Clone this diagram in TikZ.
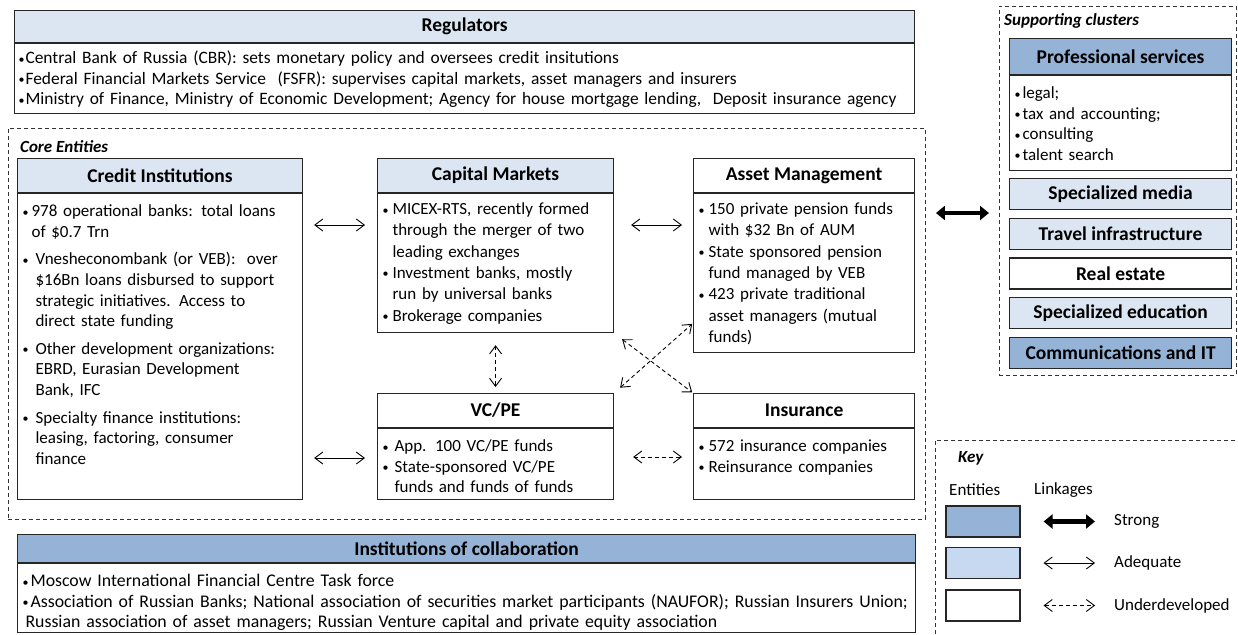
\documentclass[tikz,border=0pt]{standalone}
\usepackage{fontspec}
\setmainfont{Carlito}
\usetikzlibrary{arrows.meta,positioning}

\definecolor{deepblue}{HTML}{95B3D7}
\definecolor{paleblue}{HTML}{DCE6F2}
\definecolor{keyblue}{HTML}{C6D9F1}

\newcommand\txtfont{\fontsize{17}{20.6}\selectfont}
\newcommand\loosefont{\fontsize{17}{21.3}\selectfont}
\newcommand\regfont{\fontsize{17.4}{20.6}\selectfont}
\newcommand\widefont{\fontsize{17.8}{20.6}\selectfont}
\newcommand\hdfont{\fontsize{19.5}{23}\selectfont\bfseries}
% bullet with hanging indent (first item: \bul, next ones: \itm)
\newcommand\bdot{\raisebox{0.6pt}{\fontsize{12}{12}\selectfont\textbullet}}
\newcommand\bul[1][13pt]{\hangindent=#1\hangafter=1\noindent\makebox[#1][l]{\bdot}}
\newcommand\itm[1][13pt]{\par\bul[#1]}
\newcommand\gap{\par\vspace{7pt}}

\tikzset{
  head/.style={draw=black!85, line width=1.1pt, fill=paleblue, font=\hdfont,
    minimum height=34pt, inner sep=0pt, anchor=north west},
  body/.style={draw=black!85, line width=1.1pt, fill=white, font=\txtfont,
    align=left, inner xsep=5pt, inner ysep=0pt, text height=21pt},
  cluster/.style={draw=black!80, line width=0.9pt, dash pattern=on 4pt off 3pt,
    anchor=north west, inner sep=0pt},
  tag/.style={font=\txtfont\bfseries\itshape, anchor=west, inner sep=0pt},
  plain/.style={font=\txtfont, anchor=west, inner sep=0pt},
  adeq/.style={line width=0.9pt, {Straight Barb[length=8pt,width=12pt]}-{Straight Barb[length=8pt,width=12pt]}},
  weak/.style={adeq, dash pattern=on 4pt off 3pt},
  strong/.style={line width=4.5pt, {Triangle[length=9pt,width=14pt]}-{Triangle[length=9pt,width=14pt]}},
  swatch/.style={draw=black!85, line width=1.1pt, minimum width=74pt, minimum height=31pt, inner sep=0pt},
}

\begin{document}
\begin{tikzpicture}[x=1pt,y=-1pt]
\useasboundingbox (0,0) rectangle (1238,634);

% regulators
\node[head, minimum width=900pt, minimum height=32pt] (regh) at (14,10) {Regulators};
\node[body, font=\regfont, inner xsep=4pt, below=0pt of regh, text width=892pt, text height=20pt, text depth=50pt] (regb) {%
  \bul[7pt]Central Bank of Russia (CBR): sets monetary policy and oversees credit insitutions
  \itm[7pt]Federal Financial Markets Service~ (FSFR): supervises capital markets, asset managers and insurers
  \itm[7pt]Ministry of Finance, Ministry of Economic Development; Agency for house mortgage lending,~ Deposit insurance agency\par};

% core entities
\node[cluster, minimum width=917pt, minimum height=391pt] (core) at (8,128) {};
\node[tag] (coretag) at (20,147) {Core Entities};

\node[head, minimum width=285pt] (crh) at (17,158) {Credit Institutions};
\node[body, below=0pt of crh, text width=275pt, text height=23pt, text depth=283pt] (crb) {%
  \bul[9pt]978 operational banks: total loans\newline of \$0.7 Trn
  \gap\bul Vnesheconombank (or VEB):~ over\newline \$16Bn loans disbursed to support\newline strategic initiatives. Access to\newline direct state funding
  \gap\bul Other development organizations:\newline EBRD, Eurasian Development\newline Bank, IFC
  \gap\bul Specialty finance institutions:\newline leasing, factoring, consumer\newline finance\par};

\node[head, minimum width=236pt] (cmh) at (377,158) {Capital Markets};
\node[body, font=\loosefont, below=0pt of cmh, text width=226pt, text depth=118pt] (cmb) {%
  \bul[10pt]MICEX-RTS, recently formed\newline through the merger of two\newline leading exchanges
  \itm[10pt]Investment banks, mostly\newline run by universal banks
  \itm[10pt]Brokerage companies\par};

\node[head, fill=white, minimum width=221pt] (amh) at (693,158) {Asset Management};
\node[body, font=\loosefont, below=0pt of amh, text width=211pt, text depth=138pt] (amb) {%
  \bul[10pt]150 private pension funds\newline with \$32 Bn of AUM
  \itm[10pt]State sponsored pension\newline fund managed by VEB
  \itm[10pt]423 private traditional\newline asset managers (mutual\newline funds)\par};

\node[head, fill=white, minimum width=236pt] (vch) at (377,393) {VC/PE};
\node[body, below=0pt of vch, text width=226pt, text height=23pt, text depth=48pt] (vcb) {%
  \bul[12pt]App. 100 VC/PE funds
  \itm[12pt]State-sponsored VC/PE\newline funds and funds of funds\par};

\node[head, fill=white, minimum width=221pt] (inh) at (693,393) {Insurance};
\node[body, below=0pt of inh, text width=211pt, text height=23pt, text depth=48pt] (inb) {%
  \bul[10pt]572 insurance companies
  \itm[10pt]Reinsurance companies\par};

% links between core entities
\draw[adeq, shorten <=11pt, shorten >=12pt] (crb.east |- 0,225) -- (cmb.west |- 0,225);
\draw[adeq, shorten <=11pt, shorten >=12pt] (crb.east |- 0,458) -- (vcb.west |- 0,458);
\draw[adeq, shorten <=17pt, shorten >=11pt] (cmb.east |- 0,225) -- (amb.west |- 0,225);
\draw[weak, shorten <=12pt, shorten >=6pt] (cmb.south) -- (vch.north);
\draw[weak, shorten <=19pt, shorten >=11pt] (vcb.east |- 0,457) -- (inb.west |- 0,457);
\draw[weak, shorten <=10pt, shorten >=1pt] (cmb.south east) -- (inh.north west);
\draw[weak, shorten <=8pt, shorten >=1pt] (vch.north east) -- ([yshift=30pt]amb.south west);

% supporting clusters
\node[cluster, minimum width=237pt, minimum height=369pt] (supp) at (999,6) {};
\node[tag] (supptag) at (1004,21) {Supporting clusters};
\node[head, fill=deepblue, minimum width=222pt, minimum height=36pt] (psh) at (1009,38) {Professional services};
\node[body, below=0pt of psh, text width=212pt, text height=23pt, text depth=72pt] (psb) {%
  \bul[8pt]legal;
  \itm[8pt]tax and accounting;
  \itm[8pt]consulting
  \itm[8pt]talent search\par};
\node[head, minimum width=222pt, minimum height=31pt, below=7pt of psb] (smh) {Specialized media};
\node[head, minimum width=222pt, minimum height=31pt, below=7.5pt of smh] (tih) {Travel infrastructure};
\node[head, fill=white, minimum width=222pt, minimum height=31pt, below=7.5pt of tih] (reh) {Real estate};
\node[head, minimum width=222pt, minimum height=31pt, below=7.5pt of reh] (seh) {Specialized education};
\node[head, fill=deepblue, minimum width=222pt, minimum height=31pt, below=7.5pt of seh] (cih) {Communications and IT};

\draw[strong, shorten <=10pt, shorten >=10pt] (core.east |- 0,213) -- (supp.west |- 0,213);

% institutions of collaboration
\node[head, fill=deepblue, minimum width=898pt, minimum height=28pt] (ich) at (17,534) {Institutions of collaboration};
\node[body, font=\widefont, below=0pt of ich, text width=888pt, text height=23pt, text depth=46pt] (icb) {%
  \bul[8pt]Moscow International Financial Centre Task force
  \itm[8pt]Association of Russian Banks; National association of securities market participants (NAUFOR); Russian Insurers Union;\newline\hspace*{-5pt}Russian association of asset managers; Russian Venture capital and private equity association\par};

% key
\node[cluster, minimum width=320pt, minimum height=220pt] (key) at (935,440) {};
\node[tag] (keytag) at (958,458) {Key};
\node[plain] (enttag) at (949,490) {Entities};
\node[plain] (lnktag) at (1034,490) {Linkages};
\node[swatch, fill=deepblue] (k1) at (983,521.5) {};
\node[swatch, fill=keyblue] (k2) at (983,563) {};
\node[swatch, fill=white] (k3) at (983,605.5) {};
\node[plain] (kl1) at (1114,521.5) {Strong};
\node[plain] (kl2) at (1114,563) {Adequate};
\node[plain] (kl3) at (1114,605.5) {Underdeveloped};
\draw[strong, shorten <=23pt, shorten >=19pt] (k1.east) -- (kl1.west);
\draw[adeq, shorten <=23pt, shorten >=19pt] (k2.east) -- (kl2.west);
\draw[weak, shorten <=23pt, shorten >=19pt] (k3.east) -- (kl3.west);
\end{tikzpicture}
\end{document}
